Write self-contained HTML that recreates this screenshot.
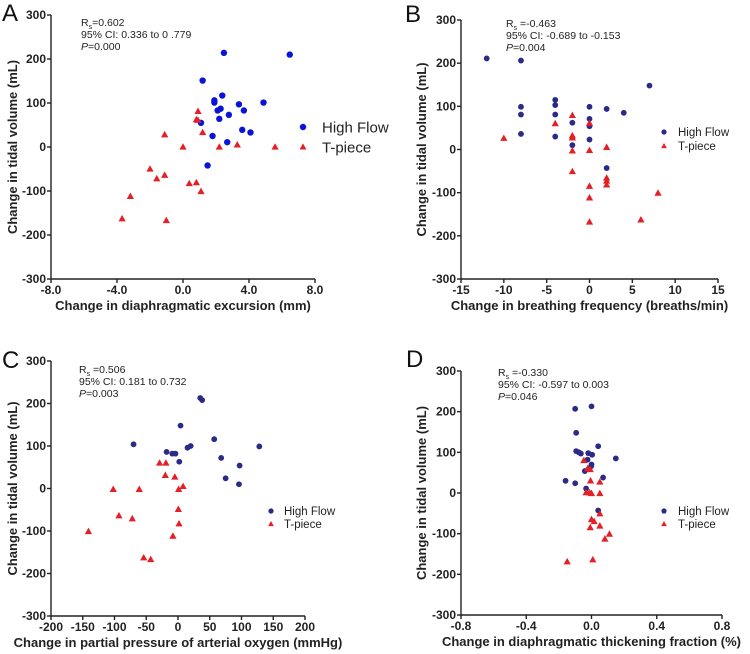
<!DOCTYPE html>
<html><head><meta charset="utf-8"><style>
html,body{margin:0;padding:0;background:#fff;}
svg{display:block;font-family:"Liberation Sans",Arial,sans-serif;}
</style></head><body>
<svg id="fig" width="750" height="654" viewBox="0 0 750 654" xmlns="http://www.w3.org/2000/svg"></svg>
<script>
// Panel A data
const aHighX=[2.48,6.47,1.19,2.38,1.9,1.9,3.39,4.88,2.1,2.28,3.69,2.78,2.2,1.09,3.59,4.09,1.79,2.68,1.49];
const aHighY=[214,210,151,117,106,101,97,101,83,87,83,73,64,55,39,33,25,11,-42];
const aTX=[0.91,0.81,0.91,-1.11,1.19,0,2.2,3.29,5.58,-2.0,-1.59,-1.11,0.38,0.81,1.09,-3.19,-3.69,-1.01];
const aTY=[81,62,61,28,33,0,0,5,0,-50,-72,-64,-83,-81,-101,-112,-163,-167];
const aXTicks=["-8.0","-4.0","0.0","4.0","8.0"];
// Panel B data
const bHighX=[-12,-8,-8,-8,-8,-4,-4,-4,-4,-2,-2,0,0,0,0,2,4,7,2];
const bHighY=[211,206,99,81,36,115,103,81,30,62,10,99,71,54,23,94,85,148,-43];
const bTX=[-10,-4,-2,-2,-2,-2,-2,0,0,0,0,0,2,2,2,2,8,6];
const bTY=[26,60,79,32,27,-3,-51,61,-2,-85,-112,-168,5,-66,-73,-82,-101,-163];
const bXTicks=["-15","-10","-5","0","5","10","15"];
// Panel C data
const cHighX=[-70,35,38,4,57,-18,-9,-4,2,15,20,68,97,75,96,128];
const cHighY=[104,213,208,148,116,86,82,82,63,96,100,72,54,24,10,99];
const cTX=[-29,-19,-20,-5,1,8,-102,-61,-93,-72,-141,0.5,1.6,-8,-54,-43];
const cTY=[60,60,31,27,-2,5,-2,-2,-64,-71,-101,-49,-83,-112,-163,-167];
const cXTicks=["-200","-150","-100","-50","0","50","100","150","200"];
// Panel D data
const dHighX=[-0.1,0,-0.094,-0.094,-0.078,-0.065,-0.02,0.004,0.041,0.149,-0.024,0,-0.002,-0.041,0.071,-0.159,-0.1,-0.033,0.041];
const dHighY=[207,213,148,103,100,97,98,94,115,85,82,70,66,54,38,30,24,11,-43];
const dTX=[-0.047,-0.024,-0.008,-0.006,0.051,-0.033,-0.012,0,0.051,0.051,0,0.016,-0.008,0.051,0.11,0.082,-0.149,0.008];
const dTY=[80,60,58,30,27,1,1,-1,-1,-51,-65,-70,-85,-81,-101,-113,-169,-164];
const dXTicks=["-0.8","-0.4","0.0","0.4","0.8"];
const yTicks=[-300,-200,-100,0,100,200,300];

const NS="http://www.w3.org/2000/svg";
const svg=document.getElementById('fig');
function mk(tag,attrs,parent){const e=document.createElementNS(NS,tag);for(const k in attrs)e.setAttribute(k,attrs[k]);(parent||svg).appendChild(e);return e;}
function txt(s,attrs,parent){const e=mk('text',attrs,parent);e.textContent=s;return e;}

function panel(p){
  const g=mk('g',{});
  
  
  const sx=v=>p.x0+(v-p.xmin)/(p.xmax-p.xmin)*(p.x1-p.x0);
  const sy=v=>p.y0+(v-(-300))/600*(p.y1-p.y0);
  const L=txt(p.id,{x:p.lx,y:p.ly,'font-size':24,fill:'#111'},g);
  
  const ya=mk('line',{x1:p.x0,y1:p.y0,x2:p.x0,y2:p.y1,stroke:'#222','stroke-width':1.4},g);
  
  const xa=mk('line',{x1:p.x0,y1:p.y0,x2:p.x1,y2:p.y0,stroke:'#222','stroke-width':1.4},g);
  
  yTicks.forEach(v=>{const y=sy(v);
    mk('line',{x1:p.x0-4,y1:y,x2:p.x0,y2:y,stroke:'#222','stroke-width':1.4},g);
    const t=txt(String(v),{x:p.x0-5,y:y+4,'font-size':12,'font-weight':'bold','text-anchor':'end',fill:'#222'},g);
    });
  const n=p.xt.length;
  p.xt.forEach((s,i)=>{const v=p.xmin+i*(p.xmax-p.xmin)/(n-1);const x=sx(v);
    mk('line',{x1:x,y1:p.y0,x2:x,y2:p.y0+4,stroke:'#222','stroke-width':1.4},g);
    const t=txt(s,{x:x,y:p.y0+15,'font-size':12,'font-weight':'bold','text-anchor':'middle',fill:'#222'},g);
    });
  const yc=(p.y0+p.y1)/2;
  const yt=txt('Change in tidal volume (mL)',{x:p.ytx,y:yc,'font-size':13,'font-weight':'bold','text-anchor':'middle',fill:'#222',transform:`rotate(-90 ${p.ytx} ${yc})`},g);
  
  const xt=txt(p.xlabel,{x:(p.x0+p.x1)/2,y:p.y0+31,'font-size':13,'font-weight':'bold','text-anchor':'middle',fill:'#222'},g);
  
  // annotation
  const a1=txt('',{x:p.ax,y:p.ay,'font-size':10.5,fill:'#222'},g);
  a1.innerHTML='R<tspan font-size="7" dy="3">s</tspan><tspan dy="-3">'+p.r+'</tspan>';
  
  const a2=txt(p.ci,{x:p.ax,y:p.ay+12,'font-size':10.5,fill:'#222'},g);
  
  const a3=txt('',{x:p.ax,y:p.ay+24,'font-size':10.5,fill:'#222'},g);
  a3.innerHTML='<tspan font-style="italic">P</tspan>'+p.pv;
  
  const r=p.big?3.2:2.9;
  p.hx.forEach((v,i)=>{const c=mk('circle',{cx:sx(v),cy:sy(p.hy[i]),r:r,fill:p.blue},g);
    });
  const tri=(x,y,s)=>`${x},${y-s} ${x-s*0.95},${y+s*0.7} ${x+s*0.95},${y+s*0.7}`;
  p.tx.forEach((v,i)=>{const t=mk('polygon',{points:tri(sx(v),sy(p.ty[i]),3.8),fill:'#e41f26'},g);
    });
  // legend
  const fs=p.big?15:11.5;
  const lg=mk('g',{},g);
  const l1=mk('circle',{cx:p.lgx,cy:p.lgy,r:p.big?3.2:2.6,fill:p.blue},lg);
  
  const lt1=txt('High Flow',{x:p.lgtx,y:p.lgy+fs*0.36,'font-size':fs,fill:'#222'},lg);
  
  const l2=mk('polygon',{points:tri(p.lgx,p.lgy+p.lgd,p.big?3.6:3),fill:'#e41f26'},lg);
  
  const lt2=txt('T-piece',{x:p.lgtx,y:p.lgy+p.lgd+fs*0.36,'font-size':fs,fill:'#222'},lg);
  
}
panel({id:'A',x0:51,x1:315,y0:279,y1:15,xmin:-8,xmax:8,xt:aXTicks,hx:aHighX,hy:aHighY,tx:aTX,ty:aTY,blue:'#0a14d8',big:true,
  lx:2,ly:21,ytx:17,xlabel:'Change in diaphragmatic excursion (mm)',ax:81,ay:26,r:'=0.602',ci:'95% CI: 0.336 to 0 .779',pv:'=0.000',lgx:303,lgy:127,lgd:20,lgtx:322});
panel({id:'B',x0:461,x1:718,y0:279,y1:20,xmin:-15,xmax:15,xt:bXTicks,hx:bHighX,hy:bHighY,tx:bTX,ty:bTY,blue:'#2b2a86',big:false,
  lx:405,ly:22,ytx:426,xlabel:'Change in breathing frequency (breaths/min)',ax:506,ay:27,r:' =-0.463',ci:'95% CI: -0.689 to -0.153',pv:'=0.004',lgx:664,lgy:132,lgd:14,lgtx:678});
panel({id:'C',x0:51,x1:305,y0:616,y1:361,xmin:-200,xmax:200,xt:cXTicks,hx:cHighX,hy:cHighY,tx:cTX,ty:cTY,blue:'#2b2a86',big:false,
  lx:2,ly:368,ytx:17,xlabel:'Change in partial pressure of arterial oxygen (mmHg)',ax:79,ay:373,r:' =0.506',ci:'95% CI: 0.181 to 0.732',pv:'=0.003',lgx:271,lgy:511,lgd:13,lgtx:284});
panel({id:'D',x0:461,x1:722,y0:615,y1:371,xmin:-0.8,xmax:0.8,xt:dXTicks,hx:dHighX,hy:dHighY,tx:dTX,ty:dTY,blue:'#2b2a86',big:false,
  lx:406,ly:367,ytx:426,xlabel:'Change in diaphragmatic thickening fraction (%)',ax:498,ay:376,r:' =-0.330',ci:'95% CI: -0.597 to 0.003',pv:'=0.046',lgx:664,lgy:511,lgd:13,lgtx:678});
</script>
</body></html>
